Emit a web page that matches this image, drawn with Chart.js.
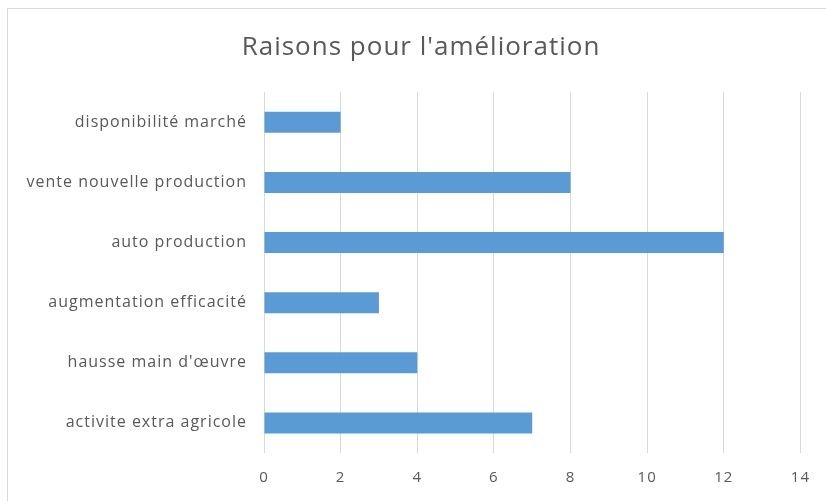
<!DOCTYPE html>
<html>
<head>
<meta charset="utf-8">
<script src="https://cdn.jsdelivr.net/npm/chart.js@4/dist/chart.umd.min.js"></script>
<style>
  html, body { margin: 0; padding: 0; background: #fff; }
  #wrap { position: absolute; left: 0; top: 0; width: 826px; height: 501px; }
  #frame { position: absolute; left: 7px; top: 8px; width: 840px; height: 520px; border: 1px solid #d9d9d9; box-sizing: border-box; }
</style>
</head>
<body>
<div id="frame"></div>
<div id="wrap"><canvas id="c" width="826" height="501"></canvas></div>
<script>
const categories = [
  "disponibilité marché",
  "vente nouvelle production",
  "auto production",
  "augmentation efficacité",
  "hausse main d'œuvre",
  "activite extra agricole"
];
const values = [2, 8, 12, 3, 4, 7];
const xTicks = [0, 2, 4, 6, 8, 10, 12, 14];

const textColor = "#595959";
const gridColor = "#d9d9d9";
const fontFamily = "'Open Sans', 'Liberation Sans', sans-serif";

const spacingPlugin = {
  id: "spacing",
  beforeLayout(chart) { chart.ctx.letterSpacing = "1px"; },
  afterLayout(chart) {
    if (chart.titleBlock) { chart.titleBlock.left = 40; }
  },
  beforeDraw(chart) { chart.ctx.letterSpacing = "1px"; }
};

new Chart(document.getElementById("c"), {
  type: "bar",
  data: {
    labels: categories,
    datasets: [{
      data: values,
      backgroundColor: "#5b9bd5",
      borderWidth: 0,
      categoryPercentage: 1,
      barPercentage: 0.35
    }]
  },
  plugins: [spacingPlugin],
  options: {
    indexAxis: "y",
    responsive: false,
    animation: false,
    layout: { padding: { left: 0, right: 24, top: 0, bottom: 0 } },
    plugins: {
      legend: { display: false },
      tooltip: { enabled: false },
      title: {
        display: true,
        text: "Raisons pour l'amélioration",
        color: textColor,
        font: { family: fontFamily, size: 26, weight: "normal" },
        padding: { top: 32, bottom: 29 }
      }
    },
    scales: {
      x: {
        min: xTicks[0],
        max: xTicks[xTicks.length - 1],
        afterBuildTicks: (s) => { s.ticks = xTicks.map(v => ({ value: v })); },
        border: { display: false },
        grid: { color: gridColor, lineWidth: 1, drawTicks: false },
        ticks: { color: textColor, font: { family: fontFamily, size: 15 }, padding: 16 },
        afterFit: (s) => { s.height = 501 - 453; }
      },
      y: {
        border: { display: false },
        grid: { display: false, drawTicks: false },
        ticks: { color: textColor, font: { family: fontFamily, size: 16 }, padding: 17 },
        afterFit: (s) => { s.width = 264; }
      }
    }
  }
});
</script>
</body>
</html>
